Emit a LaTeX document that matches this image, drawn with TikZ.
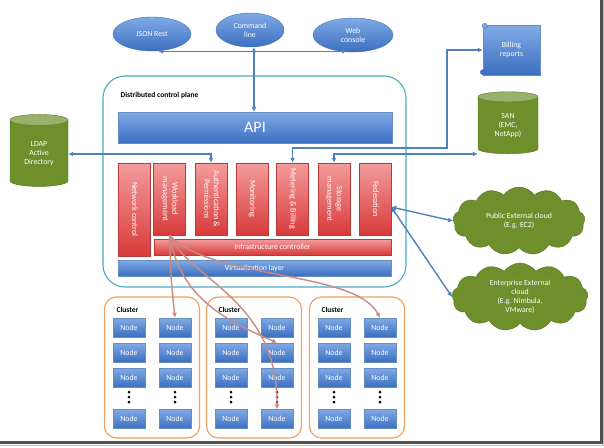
\documentclass[tikz,border=0pt]{standalone}
\usepackage{fontspec}
\setmainfont{Carlito}
\usetikzlibrary{arrows.meta,positioning,calc,shapes.geometric,shapes.symbols}
\definecolor{linkblue}{HTML}{4F81BD}
\definecolor{bluetop}{HTML}{80AAE6}
\definecolor{bluebot}{HTML}{3C6FC0}
\definecolor{blueedge}{HTML}{4072B4}
\definecolor{redtop}{HTML}{F49C9C}
\definecolor{redbot}{HTML}{D83A3A}
\definecolor{rededge}{HTML}{B83A3A}
\definecolor{olive}{HTML}{6E8F2C}
\definecolor{olivedark}{HTML}{56731E}
\definecolor{planeedge}{HTML}{4BACC6}
\definecolor{clusteredge}{HTML}{EFA262}
\definecolor{flowred}{HTML}{C98A82}
\definecolor{shadowgray}{HTML}{505050}

\newcommand\vlabel[1]{\rotatebox{-90}{\begin{tabular}{@{}c@{}}#1\end{tabular}}}

\tikzset{
  >={Latex[length=5pt,width=5pt]},
  every node/.style={font=\fontsize{7.8}{9}\selectfont,text=white,align=center},
  iface/.style={ellipse,draw=blueedge,top color=bluetop,bottom color=bluebot,minimum height=34pt,inner sep=0pt},
  bluebar/.style={draw=blueedge!80,top color=bluetop,bottom color=bluebot,inner sep=0pt},
  redbar/.style={draw=rededge,top color=redtop,bottom color=redbot,inner sep=0pt},
  service/.style={redbar,minimum width=32pt,minimum height=72pt,font=\fontsize{8.2}{9.4}\selectfont},
  store/.style={cylinder,shape border rotate=90,aspect=0.35,draw=olivedark,cylinder uses custom fill,cylinder body fill=olive,cylinder end fill=olive!70!white,inner sep=1pt},
  extcloud/.style={cloud,cloud puffs=13,cloud puff arc=110,aspect=2,draw=olivedark,fill=olive,inner sep=0pt},
  link/.style={draw=linkblue,line width=1.4pt},
  flow/.style={->,draw=flowred,line width=1.4pt},
  cluster/.style={draw=clusteredge,line width=1.2pt,rounded corners=12pt,minimum width=95pt,minimum height=141pt},
  worker/.style={bluebar,minimum width=32pt,minimum height=19pt},
  plane/.style={draw=planeedge,line width=1.1pt,rounded corners=22pt,minimum width=303pt,minimum height=211pt},
  tag/.style={text=black,font=\fontsize{7.5}{8}\selectfont\bfseries}
}

\begin{document}
\begin{tikzpicture}[x=1pt,y=1pt]
  \fill[white] (0,0) rectangle (604,-447);
  \useasboundingbox (0,0) rectangle (604,-447);

  % front ends
  \node[iface,minimum width=78pt] (json) at (152,-34) {JSON Rest};
  \node[iface,minimum width=68pt] (cmd) at (250,-30) {Command\\line};
  \node[iface,minimum width=80pt] (web) at (353,-35) {Web\\console};

  % control plane
  \node[plane] (dcp) at (254.5,-181.5) {};
  \node[tag,anchor=west] (dcplabel) at (117,-95) {Distributed control plane};
  \node[bluebar,minimum width=274pt,minimum height=31pt,font=\fontsize{16}{18}\selectfont] (api) at (255,-127.5) {API};

  \node[service,minimum height=93pt] (net) at (134,-209.5) {\vlabel{Network control}};
  \foreach \x/\nm/\txt in {169.5/work/{Workload\\management},211/auth/{Authentication \&\\Permissions},252/mon/{Monitoring},292.5/meter/{Metering \& Billing},334/storage/{Storage\\management},375/fed/{Federation}}
    \node[service] (\nm) at (\x,-199) {\vlabel{\txt}};

  \node[redbar,minimum width=237pt,minimum height=16pt] (infra) at (272.5,-247) {Infrastructure controller};
  \node[bluebar,minimum width=273pt,minimum height=16pt] (virt) at (254.5,-268) {Virtualization layer};

  % outside the plane
  \node[store,minimum width=58pt,minimum height=72pt] (ldap) at (39,-154) {LDAP\\Active\\Directory};
  \node[store,minimum width=60pt,minimum height=62pt] (san) at (508,-126) {SAN\\(EMC,\\NetApp)};
  \node[bluebar,minimum width=57pt,minimum height=50pt] (billing) at (511.5,-50) {Billing\\reports};
  \draw[blueedge,fill=bluetop] ([xshift=2pt,yshift=-1pt]billing.north west) circle (2.5pt);
  \draw[blueedge,fill=bluebot] ([yshift=3pt]billing.south west) circle (2.5pt);
  \node[extcloud,minimum width=132pt,minimum height=68pt] (pub) at (519,-221) {Public External cloud\\(E.g. EC2)};
  \node[extcloud,minimum width=136pt,minimum height=68pt] (ent) at (520,-297) {Enterprise External\\cloud\\(E.g. Nimbula,\\VMware)};

  % clusters
  \foreach \c/\cx in {1/152,2/254,3/357} {
    \node[cluster] (cl\c) at (\cx,-367.5) {};
    \node[tag,anchor=west] (cl\c label) at (\cx-39,-310) {Cluster};
    \foreach \col/\dx in {a/-23,b/23} {
      \foreach \r/\y in {1/327.5,2/352.5,3/377.5,4/419}
        \node[worker] (n\c\col\r) at (\cx+\dx,-\y) {Node};
      \foreach \y in {392,397,402}
        \fill (\cx+\dx,-\y) circle (1.5pt);
    }
  }

  % connectors
  \draw[link,<->] ([xshift=6pt]json.south) -- ([xshift=-6pt]web.south |- json.south);
  \draw[link,<->] ([xshift=4pt]cmd.south) -- ([xshift=4pt]cmd.south |- api.north);
  \draw[link,<->] (ldap) -| (auth.north);
  \coordinate (billbend) at (447,-148);
  \draw[link,<->] (meter.north) |- (billbend) |- (billing.west);
  \draw[link,<->] (storage.north) |- ($(san.west)+(0,-28)$);
  \draw[link,<->] ([yshift=-8pt]fed.east) -- (pub.west);
  \draw[link,<->] ([yshift=-8pt]fed.east) -- (ent.west);

  % workload placement
  \draw[flow] (work.south) .. controls (171,-280) .. (n1b1.north);
  \draw[flow] (work.south) .. controls (180,-300) and (230,-322) .. (n2b2.north);
  \draw[flow] (work.south) .. controls (190,-280) and (278,-300) .. (n2b4.north);
  \draw[flow] (work.south) .. controls (210,-280) and (355,-270) .. (n3b1.north);

  % frame shadow
  \draw[shadowgray,line width=2.5pt] (0,-442.5) -- (601.5,-442.5) -- (601.5,0);
  \draw[black!25,line width=1pt] (0,-445.5) -- (603.5,-445.5) -- (603.5,0);
\end{tikzpicture}
\end{document}
